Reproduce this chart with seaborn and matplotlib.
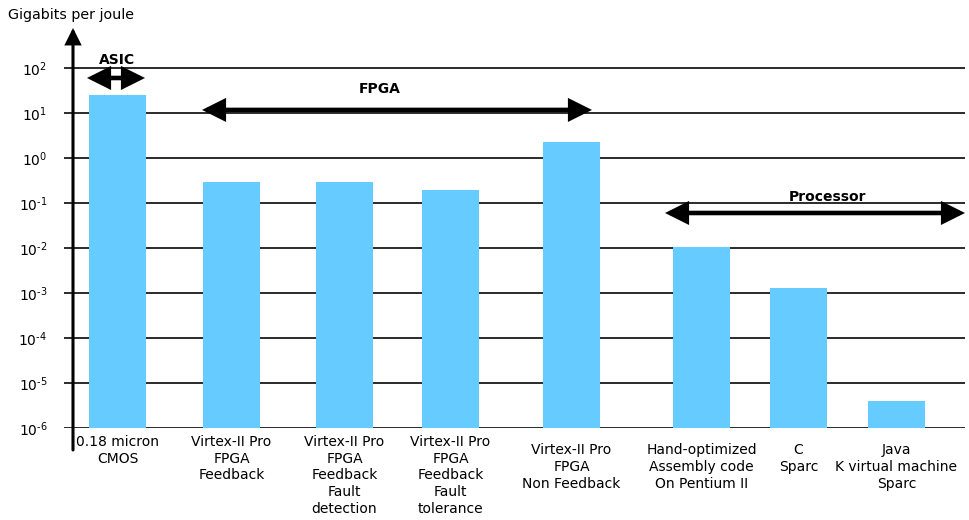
import numpy as np
import pandas as pd
import matplotlib
matplotlib.use('Agg')
import matplotlib.pyplot as plt
import matplotlib.transforms as mtransforms
import seaborn as sns

# ---- data -------------------------------------------------------------------
labels = [
    '0.18 micron\nCMOS',
    'Virtex-II Pro\nFPGA\nFeedback',
    'Virtex-II Pro\nFPGA\nFeedback\nFault\ndetection',
    'Virtex-II Pro\nFPGA\nFeedback\nFault\ntolerance',
    'Virtex-II Pro\nFPGA\nNon Feedback',
    'Hand-optimized\nAssembly code\nOn Pentium II',
    'C\nSparc',
    'Java\nK virtual machine\nSparc',
]
gbits_per_joule = [25, 0.29, 0.29, 0.19, 2.3, 0.0105, 0.0013, 4e-6]
exponents = [-6, -5, -4, -3, -2, -1, 0, 1, 2]

groups = ['ASIC', 'FPGA', 'Processor']
group_span = [(87, 145), (202, 592), (665, 965)]
group_arrow_y = [60, 11.7, 0.06]
group_label_x = [117, 380, 828]
group_label_y = [150, 34, 0.135]

# ---- layout (x in canvas pixels) --------------------------------------------
bar_pos = [117.5, 231.5, 344.5, 450.5, 571.5, 701.5, 798.5, 896.5]
bar_w = 57
low_labels = [4, 5, 6, 7]  # these labels sit a little lower
BAR_COLOR = '#66CCFF'
FS = 10

sns.set_style('white')
plt.rcParams['font.family'] = ['DejaVu Sans']
plt.rcParams['mathtext.fontset'] = 'dejavusans'
plt.rcParams['text.color'] = 'black'
plt.rcParams['xtick.color'] = 'black'
plt.rcParams['ytick.color'] = 'black'

W, H = 970, 520
fig = plt.figure(figsize=(W / 100, H / 100), dpi=100)
# axes: left edge at the grid start, bottom at 10^-6 line, top at arrow tip
ax = fig.add_axes([64 / W, (H - 428) / H, (965 - 64) / W, 400 / H])
ax.set_yscale('log')

df = pd.DataFrame({'pos': bar_pos, 'value': gbits_per_joule})
width = bar_w / np.diff(sorted(bar_pos)).min()
sns.barplot(data=df, x='pos', y='value', native_scale=True, width=width,
            color=BAR_COLOR, saturation=1, linewidth=0, ax=ax, zorder=1)

ax.set_xlim(64, 965)
ax.set_ylim(1e-6, 10 ** (2 + 40 / 45))

# horizontal decade lines
for e in exponents:
    ax.axhline(10.0 ** e, color='#1a1a1a', lw=1.3, zorder=0)


def decade_label(e):
    # plain hyphen in the exponent, like the original
    sign = r'\text{-}' if e < 0 else ''
    return f'$10^{{{sign}{abs(e)}}}$'


ax.set_yticks([10.0 ** e for e in exponents])
ax.set_yticklabels([decade_label(e) for e in exponents], fontsize=FS)
ax.yaxis.set_minor_locator(matplotlib.ticker.NullLocator())
ax.tick_params(axis='y', length=0, pad=12)

ax.set_xticks(bar_pos)
ax.set_xticklabels(labels, fontsize=FS, linespacing=1.25)
ax.tick_params(axis='x', length=0, pad=5)
for i, t in enumerate(ax.xaxis.get_major_ticks()):
    if i in low_labels:
        t.set_pad(11)
ax.set_xlabel('')
ax.set_ylabel('')

for s in ax.spines.values():
    s.set_visible(False)

# y axis with arrow head
trans = mtransforms.blended_transform_factory(ax.transData, ax.transAxes)
ax.annotate('', xy=(73, 1.0), xytext=(73, -0.055), xycoords=trans, textcoords=trans,
            arrowprops=dict(arrowstyle='-|>,head_length=0.9,head_width=0.45',
                            lw=2.2, color='black', shrinkA=0, shrinkB=0,
                            joinstyle='miter'),
            annotation_clip=False)

# group arrows
for name, (x0, x1), ya, lx, ly in zip(groups, group_span, group_arrow_y,
                                       group_label_x, group_label_y):
    ax.annotate('', xy=(x0, ya), xytext=(x1, ya),
                arrowprops=dict(arrowstyle='<|-|>,head_length=1.2,head_width=0.6',
                                lw=3.3, color='black', shrinkA=0, shrinkB=0,
                                mutation_scale=10, joinstyle='miter',
                                capstyle='butt'),
                annotation_clip=False, zorder=3)
    ax.text(lx, ly, name, ha='center', va='center', fontsize=FS,
            fontweight='bold', zorder=3)

fig.text(8 / W, 1 - 15 / H, 'Gigabits per joule', ha='left', va='center',
         fontsize=10.3)

fig.savefig('out.png', dpi=100)
